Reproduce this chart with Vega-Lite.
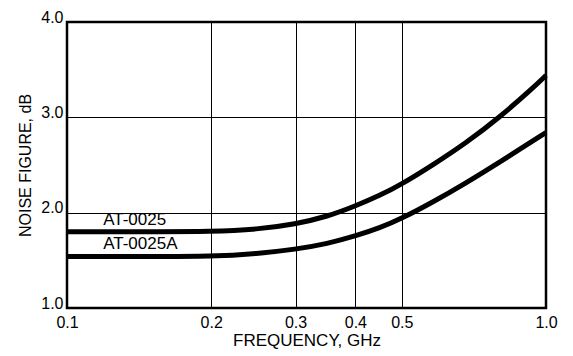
{
  "$schema": "https://vega.github.io/schema/vega-lite/v6.json",
  "autosize": "none",
  "width": 479,
  "height": 286,
  "padding": {"left": 67, "top": 22, "right": 27, "bottom": 48},
  "background": "white",
  "config": {
    "view": {"stroke": "black", "strokeWidth": 2.5},
    "font": "Liberation Sans",
    "axis": {
      "gridColor": "black", "gridOpacity": 1, "gridWidth": 1,
      "domain": false, "ticks": false,
      "labelColor": "black", "labelFontSize": 16, "labelFont": "Liberation Sans",
      "titleColor": "black", "titleFont": "Liberation Sans", "titleFontWeight": "normal"
    }
  },
  "datasets": {
    "curves": [
      {"series": "AT-0025", "freq": 0.1, "nf": 1.80},
      {"series": "AT-0025", "freq": 0.15, "nf": 1.80},
      {"series": "AT-0025", "freq": 0.2, "nf": 1.80},
      {"series": "AT-0025", "freq": 0.25, "nf": 1.825},
      {"series": "AT-0025", "freq": 0.3, "nf": 1.88},
      {"series": "AT-0025", "freq": 0.35, "nf": 1.96},
      {"series": "AT-0025", "freq": 0.4, "nf": 2.07},
      {"series": "AT-0025", "freq": 0.45, "nf": 2.18},
      {"series": "AT-0025", "freq": 0.5, "nf": 2.30},
      {"series": "AT-0025", "freq": 0.58, "nf": 2.50},
      {"series": "AT-0025", "freq": 0.68, "nf": 2.73},
      {"series": "AT-0025", "freq": 0.8, "nf": 3.00},
      {"series": "AT-0025", "freq": 0.94, "nf": 3.31},
      {"series": "AT-0025", "freq": 1.0, "nf": 3.44},
      {"series": "AT-0025A", "freq": 0.1, "nf": 1.54},
      {"series": "AT-0025A", "freq": 0.15, "nf": 1.54},
      {"series": "AT-0025A", "freq": 0.2, "nf": 1.54},
      {"series": "AT-0025A", "freq": 0.25, "nf": 1.57},
      {"series": "AT-0025A", "freq": 0.3, "nf": 1.615},
      {"series": "AT-0025A", "freq": 0.35, "nf": 1.675},
      {"series": "AT-0025A", "freq": 0.4, "nf": 1.755},
      {"series": "AT-0025A", "freq": 0.45, "nf": 1.84},
      {"series": "AT-0025A", "freq": 0.5, "nf": 1.94},
      {"series": "AT-0025A", "freq": 0.58, "nf": 2.11},
      {"series": "AT-0025A", "freq": 0.68, "nf": 2.31},
      {"series": "AT-0025A", "freq": 0.8, "nf": 2.53},
      {"series": "AT-0025A", "freq": 0.94, "nf": 2.755},
      {"series": "AT-0025A", "freq": 1.0, "nf": 2.84}
    ],
    "labels": [
      {"label": "AT-0025", "freq": 0.119, "nf": 1.87},
      {"label": "AT-0025A", "freq": 0.119, "nf": 1.62}
    ]
  },
  "layer": [
    {
      "data": {"name": "curves"},
      "mark": {"type": "line", "color": "black", "strokeWidth": 5, "interpolate": "basis", "strokeCap": "butt"},
      "encoding": {
        "x": {
          "field": "freq", "type": "quantitative",
          "scale": {"type": "log", "domain": [0.1, 1], "nice": false},
          "axis": {
            "values": [0.1, 0.2, 0.3, 0.4, 0.5, 1.0], "format": ".1f",
            "labelFlush": false, "labelPadding": 6,
            "title": "FREQUENCY, GHz", "titleFontSize": 17, "titlePadding": 2
          }
        },
        "y": {
          "field": "nf", "type": "quantitative",
          "scale": {"domain": [1, 4], "nice": false, "zero": false},
          "axis": {
            "values": [1, 2, 3, 4], "format": ".1f",
            "labelBaseline": "alphabetic", "labelPadding": 4,
            "title": "NOISE FIGURE, dB", "titleFontSize": 16, "titlePadding": 7
          }
        },
        "detail": {"field": "series"}
      }
    },
    {
      "data": {"name": "labels"},
      "mark": {"type": "text", "align": "left", "baseline": "alphabetic", "fontSize": 17, "color": "black", "font": "Liberation Sans"},
      "encoding": {
        "x": {"field": "freq", "type": "quantitative"},
        "y": {"field": "nf", "type": "quantitative"},
        "text": {"field": "label"}
      }
    }
  ]
}
